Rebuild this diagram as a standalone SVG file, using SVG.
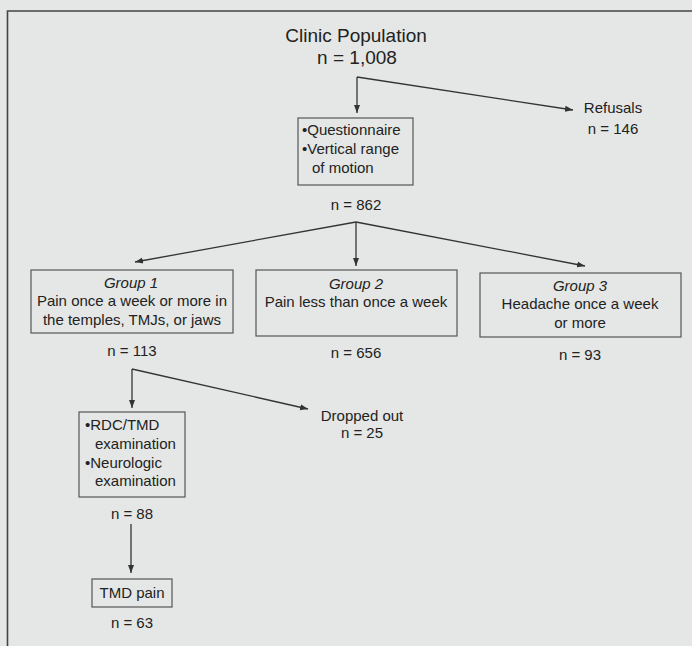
<svg xmlns="http://www.w3.org/2000/svg" width="692" height="646" viewBox="0 0 692 646">
<style>
text{font-family:"Liberation Sans",Arial,sans-serif;fill:#222;font-size:15px}
.c{text-anchor:middle}
.i{font-style:italic}
.t{font-size:19px}
.box{fill:none;stroke:#555;stroke-width:1.2}
.ln{fill:none;stroke:#333;stroke-width:1.3}
.frame{fill:none;stroke:#444;stroke-width:1.6}
</style>
<defs>
<marker id="ah" markerUnits="userSpaceOnUse" markerWidth="10" markerHeight="8" refX="8" refY="4" orient="auto">
<path d="M0,1 L8,4 L0,7 Z" fill="#333"/>
</marker>
</defs>
<rect width="692" height="646" fill="#e4e7e5"/>
<path class="frame" d="M7.5,646 V11 H692"/>
<g id="connectors">
<path class="ln" d="M357,77 V113" marker-end="url(#ah)"/>
<path class="ln" d="M357,77 L573,110" marker-end="url(#ah)"/>
<path class="ln" d="M356,222 L135,262" marker-end="url(#ah)"/>
<path class="ln" d="M356,222 V266" marker-end="url(#ah)"/>
<path class="ln" d="M356,222 L585,266" marker-end="url(#ah)"/>
<path class="ln" d="M132,369 V408" marker-end="url(#ah)"/>
<path class="ln" d="M132,369 L308,409" marker-end="url(#ah)"/>
<path class="ln" d="M131,524 V573" marker-end="url(#ah)"/>
</g>
<g id="clinic">
<text class="c t" x="356" y="42">Clinic Population</text>
<text class="c t" x="357" y="64">n = 1,008</text>
</g>
<g id="refusals">
<text class="c" x="613" y="113">Refusals</text>
<text class="c" x="613" y="134">n = 146</text>
</g>
<g id="questionnaire">
<rect class="box" x="298" y="118" width="115" height="67"/>
<text x="302" y="135">•Questionnaire</text>
<text x="302" y="154">•Vertical range</text>
<text x="312" y="173">of motion</text>
<text class="c" x="356" y="210">n = 862</text>
</g>
<g id="group1">
<rect class="box" x="31" y="270" width="202" height="63"/>
<text class="c i" x="131" y="288">Group 1</text>
<text class="c" x="132" y="306">Pain once a week or more in</text>
<text class="c" x="132" y="325">the temples, TMJs, or jaws</text>
<text class="c" x="132" y="356">n = 113</text>
</g>
<g id="group2">
<rect class="box" x="256" y="270" width="201" height="66"/>
<text class="c i" x="356" y="289">Group 2</text>
<text class="c" x="356" y="307">Pain less than once a week</text>
<text class="c" x="356" y="358">n = 656</text>
</g>
<g id="group3">
<rect class="box" x="480" y="273" width="201" height="64"/>
<text class="c i" x="580" y="291">Group 3</text>
<text class="c" x="580" y="309">Headache once a week</text>
<text class="c" x="580" y="328">or more</text>
<text class="c" x="580" y="360">n = 93</text>
</g>
<g id="dropped">
<text class="c" x="362" y="421">Dropped out</text>
<text class="c" x="362" y="438">n = 25</text>
</g>
<g id="exam">
<rect class="box" x="79" y="412" width="106" height="85"/>
<text x="85" y="430">•RDC/TMD</text>
<text x="95" y="449">examination</text>
<text x="85" y="468">•Neurologic</text>
<text x="95" y="486">examination</text>
<text class="c" x="132" y="519">n = 88</text>
</g>
<g id="tmdpain">
<rect class="box" x="92" y="579" width="80" height="28"/>
<text class="c" x="132" y="598">TMD pain</text>
<text class="c" x="132" y="628">n = 63</text>
</g>
</svg>
